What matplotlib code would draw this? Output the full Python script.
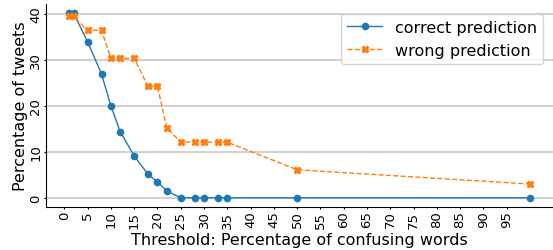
import numpy as np
import matplotlib
matplotlib.use("Agg")
import matplotlib.pyplot as plt

thresholds = [1, 2, 5, 8, 10, 12, 15, 18, 20, 22, 25, 28, 30, 33, 35, 50, 100]
correct = [40.1, 40.1, 33.9, 26.9, 20.0, 14.4, 9.1, 5.1, 3.5, 1.5, 0, 0, 0, 0, 0, 0, 0]
wrong = [39.4, 39.4, 36.4, 36.4, 30.3, 30.3, 30.3, 24.2, 24.2, 15.2, 12.1, 12.1, 12.1, 12.1, 12.1, 6.1, 3.0]
xticks = list(range(0, 100, 5))

fig, ax = plt.subplots(figsize=(5.53, 2.51), dpi=100)
fig.subplots_adjust(left=0.083, right=1.0, bottom=0.171, top=0.98)

ax.plot(thresholds, correct, marker="o", markersize=4.5, lw=1, color="#1f77b4",
        label="correct prediction")
ax.plot(thresholds, wrong, marker="X", markersize=4.5, lw=1, ls="--", color="#ff7f0e",
        label="wrong prediction")

ax.set_xticks(xticks)
ax.set_xticklabels([str(t) for t in xticks], rotation=90, fontsize=9.5)
ax.set_yticks([0, 10, 20, 30, 40])
ax.set_yticklabels(["0", "10", "20", "30", "40"], rotation=90, va="center", fontsize=9.5)
ax.tick_params(axis="both", length=1.5, pad=1)
ax.yaxis.grid(True, color="#c8c8c8", lw=1.2)
ax.set_axisbelow(True)
for s in ["top", "right"]:
    ax.spines[s].set_visible(False)

ax.set_xlabel("Threshold: Percentage of confusing words", fontsize=11.5, va="baseline")
ax.xaxis.set_label_coords(0.5, -0.183)
ax.set_ylabel("Percentage of tweets", fontsize=11.5, labelpad=1)
ax.legend(loc="upper right", fontsize=11.5, borderaxespad=0.6, handlelength=2.2)

fig.savefig("out.png")
